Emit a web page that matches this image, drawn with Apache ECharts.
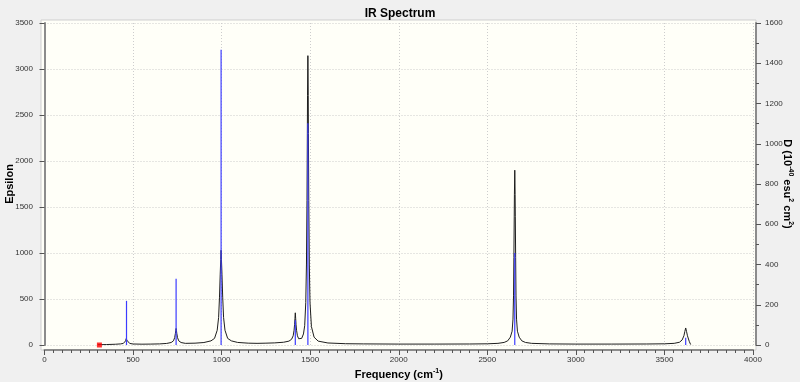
<!DOCTYPE html>
<html>
<head>
<meta charset="utf-8">
<script src="https://cdn.jsdelivr.net/npm/echarts@6/dist/echarts.min.js"></script>
<style>
  html, body { margin: 0; padding: 0; background: #f0f0f0; }
  #chart { width: 800px; height: 382px; }
</style>
</head>
<body>
<div id="chart"></div>
<script>
// broadened spectrum (Epsilon)
const freq = [300, 350, 400, 430, 445, 453, 458, 461, 463, 465, 468, 473, 481, 500, 550, 600, 650, 690,
  715, 728, 735, 739, 741, 743, 745, 747, 751, 758, 771, 795, 850, 900, 940, 960, 975, 983, 988, 992,
  995, 997, 999, 1002, 1006, 1011, 1019, 1034, 1055, 1090, 1150, 1200, 1250, 1300, 1350, 1380, 1395,
  1404, 1409, 1412, 1414, 1416, 1418, 1420, 1423, 1428, 1435, 1443, 1452, 1462, 1469, 1475, 1479, 1482,
  1484, 1485, 1487, 1489, 1490, 1492, 1495, 1499, 1507, 1522, 1545, 1600, 1700, 1800, 2000, 2200, 2400,
  2500, 2560, 2595, 2615, 2630, 2640, 2645, 2648, 2650, 2652, 2653, 2655, 2657, 2658, 2660, 2662, 2665,
  2670, 2680, 2695, 2715, 2750, 2850, 3000, 3200, 3400, 3500, 3555, 3585, 3600, 3610, 3615, 3620, 3625,
  3630, 3640, 3648];
const epsilon = [3, 5, 8, 12, 17, 28, 45, 68, 85, 68, 45, 28, 17, 11, 9, 10, 12, 17,
  27, 45, 80, 126, 155, 180, 155, 126, 80, 45, 27, 18, 20, 27, 45, 72, 160, 300, 520, 770,
  930, 1030, 930, 770, 520, 300, 160, 72, 45, 28, 20, 18, 20, 23, 30, 42, 62,
  100, 160, 225, 290, 350, 290, 225, 160, 100, 68, 60, 72, 120, 210, 460, 880, 1570,
  2300, 2710, 3145, 2710, 2300, 1570, 880, 460, 200, 85, 42, 22, 14, 12, 10, 10, 11,
  13, 18, 28, 45, 85, 150, 281, 534, 950, 1400, 1638, 1900, 1638, 1400, 950, 534, 281,
  150, 85, 45, 28, 18, 12, 10, 10, 11, 13, 18, 30, 55, 100, 145, 185, 145,
  100, 40, 5];

// stick spectrum
const stickFreq = [463, 743, 997, 1416, 1487, 2655, 3620];
const stickHeight = [480, 720, 3210, 270, 2410, 1000, 80];

// red marker on the baseline
const markerFreq = [310];
const markerValue = [0];

const chart = echarts.init(document.getElementById('chart'));

const curve = freq.map((f, i) => [f, epsilon[i]]);
const sticks = stickFreq.map((f, i) => [f, stickHeight[i]]);
const marker = markerFreq.map((f, i) => [f, markerValue[i]]);

const plain = v => String(v);
const labelFont = { fontSize: 8, color: '#333', fontFamily: 'Liberation Sans', formatter: plain };
const axisGray = '#8c8c8c';
const gridLine = { show: true, lineStyle: { color: '#cdcdcd', type: [1, 2], width: 1 } };

chart.setOption({
  backgroundColor: '#f0f0f0',
  animation: false,
  title: {
    text: 'IR Spectrum',
    left: 'center',
    top: 3,
    textStyle: { fontSize: 12, fontWeight: 'bold', color: '#000', fontFamily: 'Liberation Sans' }
  },
  graphic: {
    elements: [{
      type: 'rect',
      z: -100,
      shape: { x: 41, y: 20, width: 715, height: 330 },
      style: { fill: '#fffff8', stroke: '#cfcfcf', lineWidth: 1 }
    }]
  },
  grid: { left: 44.5, right: 47, top: 23, bottom: 37, containLabel: false, outerBoundsMode: 'none' },
  xAxis: {
    type: 'value',
    min: 0,
    max: 4000,
    interval: 500,
    offset: 5,
    axisLine: { show: true, onZero: false, lineStyle: { color: axisGray, width: 2 } },
    axisTick: { show: true, length: 5, lineStyle: { color: '#555' } },
    minorTick: { show: true, splitNumber: 10, length: 3, lineStyle: { color: '#555' } },
    axisLabel: Object.assign({ margin: 6 }, labelFont),
    splitLine: gridLine,
    name: 'Frequency (cm{sup|-1})',
    nameLocation: 'middle',
    nameGap: 18,
    nameMoveOverlap: false,
    nameTextStyle: {
      fontSize: 11, fontWeight: 'bold', color: '#000', fontFamily: 'Liberation Sans',
      rich: { sup: { fontSize: 7, fontWeight: 'bold', verticalAlign: 'bottom', padding: [0, 0, 6, 0] } }
    }
  },
  yAxis: [{
    type: 'value',
    position: 'left',
    min: 0,
    max: 3500,
    interval: 500,
    offset: 3.5,
    axisLine: { show: true, lineStyle: { color: axisGray, width: 2 } },
    axisTick: { show: true, length: 5, lineStyle: { color: '#555' } },
    axisLabel: Object.assign({ margin: 8 }, labelFont),
    splitLine: gridLine,
    name: 'Epsilon',
    nameLocation: 'middle',
    nameGap: 26,
    nameMoveOverlap: false,
    nameTextStyle: { fontSize: 11, fontWeight: 'bold', color: '#000', fontFamily: 'Liberation Sans' }
  }, {
    type: 'value',
    position: 'right',
    min: 0,
    max: 1600,
    interval: 200,
    offset: 3,
    axisLine: { show: true, lineStyle: { color: axisGray, width: 2 } },
    axisTick: { show: true, length: 5, lineStyle: { color: '#555' } },
    minorTick: { show: true, splitNumber: 2, length: 3, lineStyle: { color: '#555' } },
    axisLabel: Object.assign({ margin: 9 }, labelFont),
    splitLine: { show: false },
    name: 'D (10{sup|-40} esu{sup|2} cm{sup|2})',
    nameLocation: 'middle',
    nameRotate: -90,
    nameGap: 25,
    nameMoveOverlap: false,
    nameTextStyle: {
      fontSize: 11, fontWeight: 'bold', color: '#000', fontFamily: 'Liberation Sans',
      rich: { sup: { fontSize: 7, fontWeight: 'bold', verticalAlign: 'bottom', padding: [0, 0, 6, 0] } }
    }
  }],
  series: [{
    type: 'line',
    data: curve,
    showSymbol: false,
    z: 2,
    lineStyle: { color: '#1e1e1e', width: 1 }
  }, {
    type: 'custom',
    data: sticks,
    z: 3,
    renderItem: function (params, api) {
      const p0 = api.coord([api.value(0), 0]);
      const p1 = api.coord([api.value(0), api.value(1)]);
      return {
        type: 'rect',
        shape: { x: p0[0] - 0.6, y: p1[1], width: 1.2, height: p0[1] - p1[1] },
        style: { fill: '#3c3cff' }
      };
    }
  }, {
    type: 'scatter',
    data: marker,
    symbol: 'rect',
    symbolSize: 5,
    z: 4,
    itemStyle: { color: '#ff0000' }
  }]
});
</script>
</body>
</html>
